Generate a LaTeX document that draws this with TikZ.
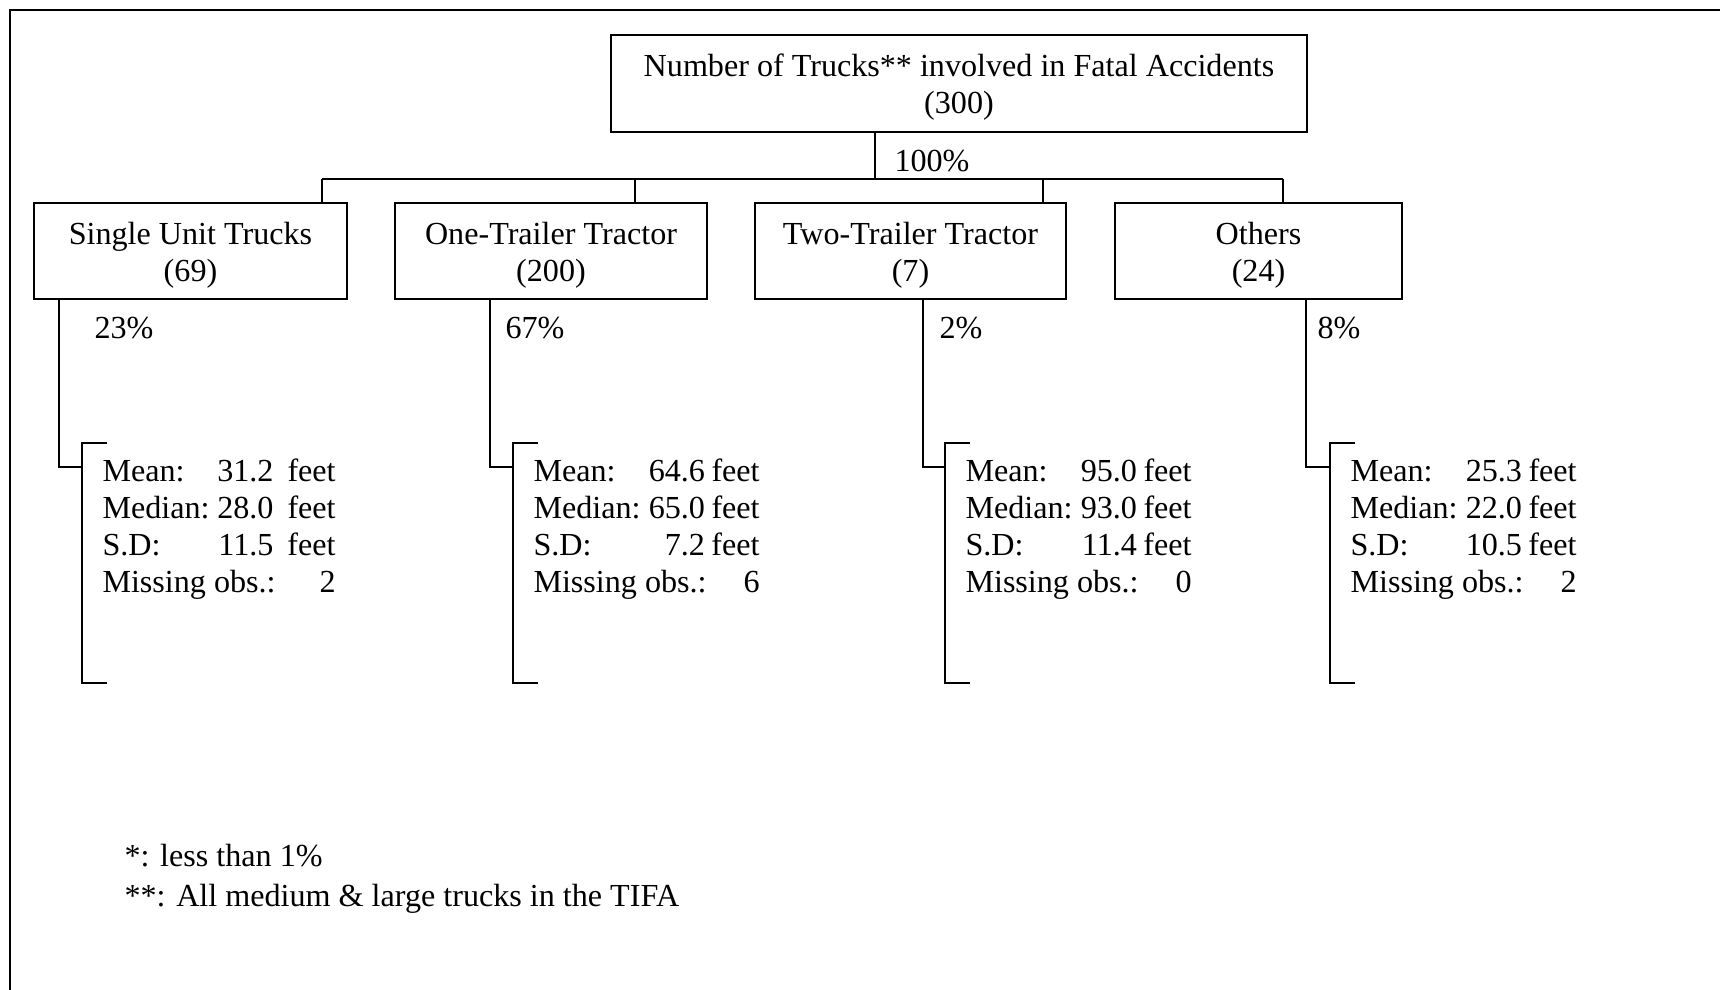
\documentclass[tikz,border=0pt]{standalone}
\usepackage{fontspec}
\setmainfont{Liberation Serif}

\newcommand{\statrows}[6]{%
\begin{tabular}[t]{@{}l@{}}
\rlap{Mean:}\makebox[#1][r]{#3}\hspace{#2}feet\\
\rlap{Median:}\makebox[#1][r]{#4}\hspace{#2}feet\\
\rlap{S.D:}\makebox[#1][r]{#5}\hspace{#2}feet\\
\rlap{Missing obs.:}\makebox[#1][r]{}\hspace{#2}\hphantom{feet}\llap{#6}
\end{tabular}}
\newcommand{\boxtext}[2]{\rule{0pt}{12pt}#1\\#2}

\begin{document}
\begin{tikzpicture}[x=0.4pt,y=-0.4pt,font=\fontsize{12.85}{14.8}\selectfont,
  catbox/.style={draw,line width=0.55pt,inner sep=0pt,align=center,minimum height=38.4pt},
  link/.style={line width=0.55pt},
  pct/.style={anchor=west,inner sep=0pt},
  stats/.style={anchor=base west,inner sep=0pt}]
\useasboundingbox (0,0) rectangle (1720,990);
\draw[line width=0.8pt] (10,1000) -- (10,10) -- (1730,10);

\node[catbox,minimum width=278.4pt,minimum height=38.8pt] (total) at (959,83.5) {\boxtext{Number of Trucks** involved in Fatal Accidents}{(300)}};
\node[catbox,minimum width=125.2pt] (single) at (190.5,251) {\boxtext{Single Unit Trucks}{(69)}};
\node[catbox,minimum width=124.8pt] (onetr) at (551,251) {\boxtext{One-Trailer Tractor}{(200)}};
\node[catbox,minimum width=124.4pt] (twotr) at (910.5,251) {\boxtext{Two-Trailer Tractor}{(7)}};
\node[catbox,minimum width=114.8pt] (others) at (1258.5,251) {\boxtext{Others}{(24)}};

\coordinate (hub) at (875,179);
\coordinate (busL) at (322,179);
\coordinate (busR) at (1283,179);
\draw[link] (total.south -| hub) -- (hub);
\draw[link] (busL) -- (busR);
\node[pct] (p-total) at (894,161) {100\%};
\foreach \cat/\x in {single/322,onetr/635,twotr/1043,others/1283}{
  \coordinate (up-\cat) at (\x,179);
  \draw[link] (up-\cat) -- (up-\cat |- \cat.north);
}

\foreach \cat/\dx/\lx in {single/59/102,onetr/490/533,twotr/923/965,others/1306/1350}{
  \coordinate (k-\cat) at (\dx,467);
  \coordinate (b-\cat) at (\lx-20,467);
  \draw[link] (\cat.south -| k-\cat) -- (k-\cat) -- (b-\cat);
  \draw[link] (b-\cat) ++(25,-24) -- ++(-25,0) -- ++(0,240) -- ++(25,0);
}

\node[pct] (p-single) at (94,328) {23\%};
\node[pct] (p-onetr) at (505,328) {67\%};
\node[pct] (p-twotr) at (939,328) {2\%};
\node[pct] (p-others) at (1317,328) {8\%};

\node[stats] (s-single) at (102,482) {\statrows{68.4pt}{5.6pt}{31.2}{28.0}{11.5}{2}};
\node[stats] (s-onetr) at (533,482) {\statrows{68.6pt}{2.6pt}{64.6}{65.0}{7.2}{6}};
\node[stats] (s-twotr) at (965,482) {\statrows{68.6pt}{2.6pt}{95.0}{93.0}{11.4}{0}};
\node[stats] (s-others) at (1350,482) {\statrows{68.6pt}{2.6pt}{25.3}{22.0}{10.5}{2}};

\node[stats] (notes) at (124,867) {\begin{tabular}[t]{@{}l@{}}*: less than 1\%\\[0.8pt]**: All medium \& large trucks in the TIFA\end{tabular}};
\end{tikzpicture}
\end{document}
